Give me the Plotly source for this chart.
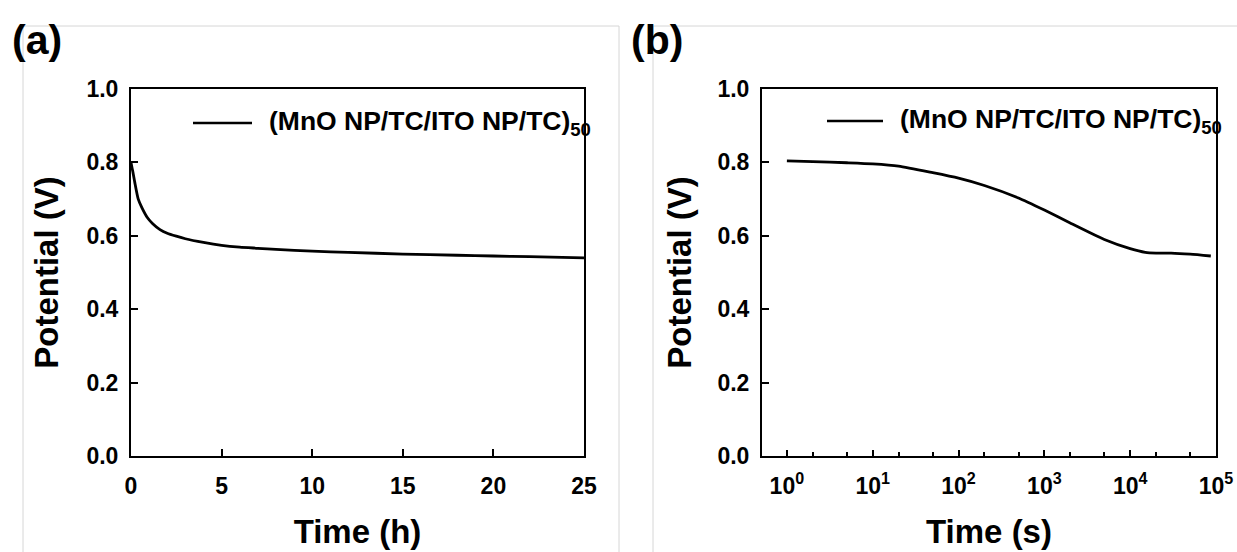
import plotly.graph_objects as go

W, H = 1237, 552

# ---- data: panel (a) ----
time_h = [0, 0.05, 0.1, 0.2, 0.4, 0.6, 0.9, 1.2, 1.6, 2.0, 2.5, 3.0, 4.0, 5.0,
          6.0, 7.0, 8.0, 10, 12, 15, 18, 20, 22, 25]
potential_a = [0.80, 0.787, 0.775, 0.748, 0.700, 0.677, 0.650, 0.633, 0.617, 0.607,
               0.599, 0.592, 0.582, 0.574, 0.569, 0.566, 0.563, 0.558, 0.555, 0.550,
               0.547, 0.545, 0.543, 0.540]

# ---- data: panel (b) ----
time_s = [1, 2, 5, 10, 20, 50, 100, 200, 500, 1000, 2000, 5000, 10000, 15000,
          20000, 30000, 50000, 87000]
potential_b = [0.804, 0.802, 0.799, 0.796, 0.790, 0.772, 0.757, 0.737, 0.703, 0.670,
               0.635, 0.590, 0.565, 0.555, 0.553, 0.553, 0.550, 0.545]

series_name = "(MnO NP/TC/ITO NP/TC)<sub>50</sub>"
xt_a = [0, 5, 10, 15, 20, 25]
yt = [0.0, 0.2, 0.4, 0.6, 0.8, 1.0]
xt_b = [1, 10, 100, 1000, 10000, 100000]
xt_b_text = ["10<sup>%d</sup>" % i for i in range(6)]

FONT = "Liberation Sans, Arial, sans-serif"

def px(x):
    return x / W

def py(y):
    return 1 - y / H

fig = go.Figure()
fig.add_trace(go.Scatter(x=time_h, y=potential_a, mode="lines", xaxis="x", yaxis="y",
                         line=dict(color="black", width=2.8, shape="spline", smoothing=0.6),
                         showlegend=False))
fig.add_trace(go.Scatter(x=time_s, y=potential_b, mode="lines", xaxis="x2", yaxis="y2",
                         line=dict(color="black", width=2.8, shape="spline", smoothing=0.6),
                         showlegend=False))

tickfont = dict(family=FONT, size=23, color="black", weight="bold")
titlefont = dict(family=FONT, size=33, color="black", weight="bold")

common_axis = dict(showline=True, linecolor="black", linewidth=2, mirror=True,
                   ticks="inside", tickcolor="black", tickwidth=2, ticklen=7,
                   showgrid=False, zeroline=False, tickfont=tickfont, automargin=False)

ydom = [py(456), py(89)]
fig.update_layout(
    template="none",
    width=W, height=H, margin=dict(l=0, r=0, t=0, b=0, pad=0),
    paper_bgcolor="white", plot_bgcolor="white",
    font=dict(family=FONT, color="black"),
    xaxis=dict(domain=[px(131), px(584)], range=[0, 25], tickvals=xt_a, anchor="y",
               title=dict(text="Time (h)", font=titlefont, standoff=22),
               ticklabelstandoff=8, **common_axis),
    yaxis=dict(domain=ydom, range=[0, 1.0], tickvals=yt, tickformat=".1f", anchor="x",
               title=dict(text="Potential (V)", font=titlefont, standoff=18),
               ticklabelstandoff=6, **common_axis),
    xaxis2=dict(domain=[px(762), px(1216)], type="log", range=[-0.29, 5.0],
                tickvals=xt_b, ticktext=xt_b_text, anchor="y2",
                title=dict(text="Time (s)", font=titlefont, standoff=22),
                ticklabelstandoff=8,
                minor=dict(ticks="inside", ticklen=4, tickwidth=1.5, tickcolor="black"),
                **{**common_axis, "ticklen": 6}),
    yaxis2=dict(domain=ydom, range=[0, 1.0], tickvals=yt, tickformat=".1f", anchor="x2",
                title=dict(text="Potential (V)", font=titlefont, standoff=16),
                ticklabelstandoff=6, **common_axis),
)

# light gray panel frames
for x0, x1 in [(23, 619), (653, 1240)]:
    fig.add_shape(type="rect", xref="paper", yref="paper",
                  x0=px(x0), x1=px(x1), y0=py(560), y1=py(26),
                  line=dict(color="#d6d6d6", width=1), fillcolor="rgba(0,0,0,0)", layer="below")

# panel labels
for lbl, cx in [("(a)", 37), ("(b)", 657)]:
    fig.add_annotation(text=lbl, xref="paper", yref="paper", x=px(cx), y=py(40),
                       xanchor="center", yanchor="middle", showarrow=False,
                       font=dict(family=FONT, size=41, color="black", weight="bold"))

# legend entries (line sample + text) in each panel
for lx0, lx1, ly, tx in [(193, 252, 123, 267), (827, 883, 121, 898)]:
    fig.add_shape(type="line", xref="paper", yref="paper",
                  x0=px(lx0), x1=px(lx1), y0=py(ly), y1=py(ly),
                  line=dict(color="black", width=2.5))
    fig.add_annotation(text=series_name, xref="paper", yref="paper", x=px(tx), y=py(ly),
                       xanchor="left", yanchor="middle", showarrow=False,
                       font=dict(family=FONT, size=26.5, color="black", weight="bold"))

fig.write_html("out.html")
